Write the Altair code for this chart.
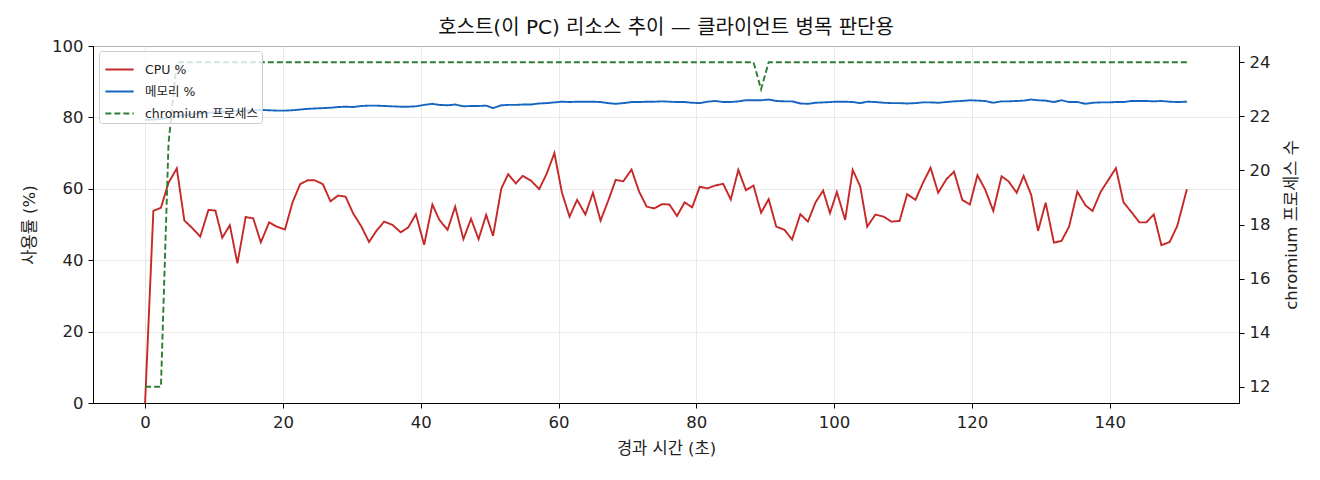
import pandas as pd
import altair as alt

# elapsed seconds
elapsed = [
    0.0, 1.2, 2.3, 3.4, 4.6, 5.7, 6.9, 8.0, 9.2, 10.2,
    11.2, 12.3, 13.4, 14.6, 15.7, 16.8, 18.0, 19.1, 20.3, 21.4,
    22.5, 23.6, 24.6, 25.8, 26.9, 28.0, 29.1, 30.2, 31.4, 32.5,
    33.6, 34.7, 35.9, 37.1, 38.2, 39.3, 40.5, 41.7, 42.7, 43.9,
    45.0, 46.2, 47.3, 48.4, 49.5, 50.5, 51.7, 52.7, 53.8, 54.8,
    56.0, 57.2, 58.3, 59.4, 60.5, 61.6, 62.7, 63.9, 65.0, 66.1,
    67.2, 68.3, 69.4, 70.6, 71.7, 72.8, 73.9, 75.0, 76.1, 77.2,
    78.3, 79.4, 80.5, 81.6, 82.7, 83.9, 85.0, 86.1, 87.2, 88.3,
    89.4, 90.5, 91.6, 92.8, 93.9, 95.1, 96.2, 97.3, 98.4, 99.4,
    100.4, 101.6, 102.7, 103.8, 104.8, 106.0, 107.2, 108.3, 109.5, 110.6,
    111.8, 112.9, 114.0, 115.1, 116.3, 117.4, 118.6, 119.7, 120.8, 121.9,
    123.1, 124.3, 125.3, 126.5, 127.5, 128.6, 129.6, 130.7, 131.9, 133.0,
    134.1, 135.3, 136.5, 137.5, 138.7, 139.8, 140.9, 142.0, 143.1, 144.3,
    145.3, 146.4, 147.5, 148.7, 149.8, 151.2,
]

cpu = [
    0.0, 53.8, 54.7, 61.7, 65.7, 51.1, 48.9, 46.6, 54.1, 53.9,
    46.3, 49.8, 39.1, 52.1, 51.7, 45.0, 50.6, 49.4, 48.6, 56.2,
    61.3, 62.4, 62.4, 61.3, 56.5, 58.1, 57.8, 53.1, 49.4, 45.1,
    48.3, 50.8, 49.9, 47.8, 49.2, 52.9, 44.3, 55.6, 51.3, 48.5,
    55.0, 45.9, 51.6, 45.9, 52.7, 46.8, 60.1, 64.1, 61.5, 63.6,
    62.3, 59.9, 64.3, 70.0, 58.9, 52.2, 56.9, 52.8, 58.9, 51.1,
    56.6, 62.5, 62.1, 65.4, 59.2, 55.0, 54.5, 55.7, 55.6, 52.4,
    56.2, 54.8, 60.6, 60.1, 60.9, 61.4, 57.0, 65.3, 59.6, 60.9,
    53.3, 57.1, 49.4, 48.5, 45.8, 52.9, 50.8, 56.2, 59.5, 53.2,
    59.1, 51.3, 65.3, 60.6, 49.4, 52.8, 52.2, 50.8, 51.0, 58.5,
    56.9, 61.7, 65.9, 58.9, 62.7, 64.8, 56.9, 55.6, 63.8, 59.9,
    53.8, 63.5, 62.1, 58.9, 63.6, 58.3, 48.2, 56.1, 44.9, 45.4,
    49.4, 59.2, 55.3, 53.8, 59.2, 62.5, 65.8, 56.2, 53.6, 50.6,
    50.6, 52.8, 44.2, 45.1, 49.6, 59.9,
]

memory = [
    79.3, 79.4, 79.6, 79.9, 80.3, 80.6, 80.9, 81.1, 81.3, 81.5,
    81.6, 81.7, 81.8, 81.9, 82.0, 82.1, 82.0, 81.9, 81.9, 82.0,
    82.2, 82.4, 82.5, 82.6, 82.7, 82.9, 83.0, 82.9, 83.2, 83.3,
    83.3, 83.2, 83.1, 83.0, 83.0, 83.1, 83.5, 83.8, 83.5, 83.4,
    83.6, 83.1, 83.2, 83.2, 83.3, 82.6, 83.4, 83.5, 83.5, 83.6,
    83.6, 83.9, 84.0, 84.2, 84.4, 84.3, 84.4, 84.4, 84.4, 84.3,
    84.0, 83.8, 84.0, 84.3, 84.3, 84.4, 84.4, 84.5, 84.4, 84.3,
    84.3, 84.1, 84.0, 84.4, 84.6, 84.3, 84.3, 84.5, 84.8, 84.8,
    84.8, 85.0, 84.6, 84.5, 84.5, 83.9, 83.8, 84.1, 84.2, 84.3,
    84.4, 84.4, 84.3, 84.0, 84.4, 84.3, 84.1, 84.0, 84.0, 83.9,
    84.0, 84.2, 84.2, 84.1, 84.3, 84.5, 84.6, 84.8, 84.7, 84.6,
    84.1, 84.5, 84.5, 84.6, 84.7, 85.0, 84.8, 84.7, 84.3, 84.8,
    84.3, 84.3, 83.8, 84.1, 84.2, 84.2, 84.3, 84.3, 84.6, 84.6,
    84.6, 84.5, 84.6, 84.4, 84.3, 84.4,
]

chromium = [
    12, 12, 12, 21, 24, 24, 24, 24, 24, 24,
    24, 24, 24, 24, 24, 24, 24, 24, 24, 24,
    24, 24, 24, 24, 24, 24, 24, 24, 24, 24,
    24, 24, 24, 24, 24, 24, 24, 24, 24, 24,
    24, 24, 24, 24, 24, 24, 24, 24, 24, 24,
    24, 24, 24, 24, 24, 24, 24, 24, 24, 24,
    24, 24, 24, 24, 24, 24, 24, 24, 24, 24,
    24, 24, 24, 24, 24, 24, 24, 24, 24, 24,
    23, 24, 24, 24, 24, 24, 24, 24, 24, 24,
    24, 24, 24, 24, 24, 24, 24, 24, 24, 24,
    24, 24, 24, 24, 24, 24, 24, 24, 24, 24,
    24, 24, 24, 24, 24, 24, 24, 24, 24, 24,
    24, 24, 24, 24, 24, 24, 24, 24, 24, 24,
    24, 24, 24, 24, 24, 24,
]

series_names = ["CPU %", "메모리 %", "chromium 프로세스"]
series_colors = ["#c62828", "#1565c0", "#2e7d32"]
series_dashes = [[1, 0], [1, 0], [6, 3]]

FONT = "'DejaVu Sans', 'Noto Sans CJK KR'"

rows = []
for name, vals in zip(series_names, [cpu, memory, chromium]):
    for t, v in zip(elapsed, vals):
        rows.append({"t": t, "value": v, "series": name})
df = pd.DataFrame(rows)

legend = alt.Legend(
    title=None, orient="none", legendX=6, legendY=5,
    symbolType="stroke", symbolSize=800, symbolStrokeWidth=1.9,
    symbolOffset=2,
    labelFont=FONT, labelFontSize=12.5, labelColor="#222",
    rowPadding=0, padding=3, labelOffset=10,
    fillColor="rgba(255,255,255,0.8)", strokeColor="#cccccc",
    cornerRadius=3,
)

color = alt.Color("series:N",
                  scale=alt.Scale(domain=series_names, range=series_colors),
                  legend=legend)
dash = alt.StrokeDash("series:N",
                      scale=alt.Scale(domain=series_names, range=series_dashes),
                      legend=legend)

x = alt.X(
    "t:Q", title="경과 시간 (초)",
    scale=alt.Scale(domain=[-7.56, 158.76], nice=False, zero=False),
    axis=alt.Axis(values=[0, 20, 40, 60, 80, 100, 120, 140], grid=True,
                  labelPadding=6, titlePadding=10),
)

base = alt.Chart(df)

left = base.transform_filter(
    alt.FieldOneOfPredicate(field="series", oneOf=series_names[:2])
).mark_line(strokeWidth=1.9).encode(
    x=x,
    y=alt.Y("value:Q", title="사용률 (%)",
            scale=alt.Scale(domain=[0, 100], nice=False),
            axis=alt.Axis(values=[0, 20, 40, 60, 80, 100], grid=True,
                          labelPadding=5, titlePadding=14)),
    color=color,
    strokeDash=dash,
    order="t:Q",
)

right = base.transform_filter(
    alt.FieldEqualPredicate(field="series", equal=series_names[2])
).mark_line(strokeWidth=1.9).encode(
    x=x,
    y=alt.Y("value:Q", title="chromium 프로세스 수",
            scale=alt.Scale(domain=[11.4, 24.6], nice=False, zero=False),
            axis=alt.Axis(orient="right", values=[12, 14, 16, 18, 20, 22, 24],
                          grid=False, titleAngle=270, titleBaseline="top",
                          labelPadding=5, titlePadding=14)),
    color=color,
    strokeDash=dash,
    order="t:Q",
)

chart = alt.layer(left, right).resolve_scale(
    y="independent"
).properties(
    width=1146,
    height=357,
    title=alt.Title("호스트(이 PC) 리소스 추이 — 클라이언트 병목 판단용",
                    font=FONT, fontSize=20, fontWeight="normal",
                    color="#111", offset=0),
    autosize=alt.AutoSizeParams(type="none"),
    padding={"left": 85, "top": 38, "right": 70, "bottom": 60},
).configure_view(
    stroke="black", strokeWidth=1
).configure_axis(
    labelFont=FONT, titleFont=FONT, labelFontSize=16.5, titleFontSize=16.5,
    titleFontWeight="normal", labelColor="#222", titleColor="#222",
    domainColor="black", tickColor="black", tickSize=5,
    gridColor="#e3e3e3", gridWidth=0.8,
)

chart.save("out.html", embed_options={"renderer": "svg", "actions": False})
